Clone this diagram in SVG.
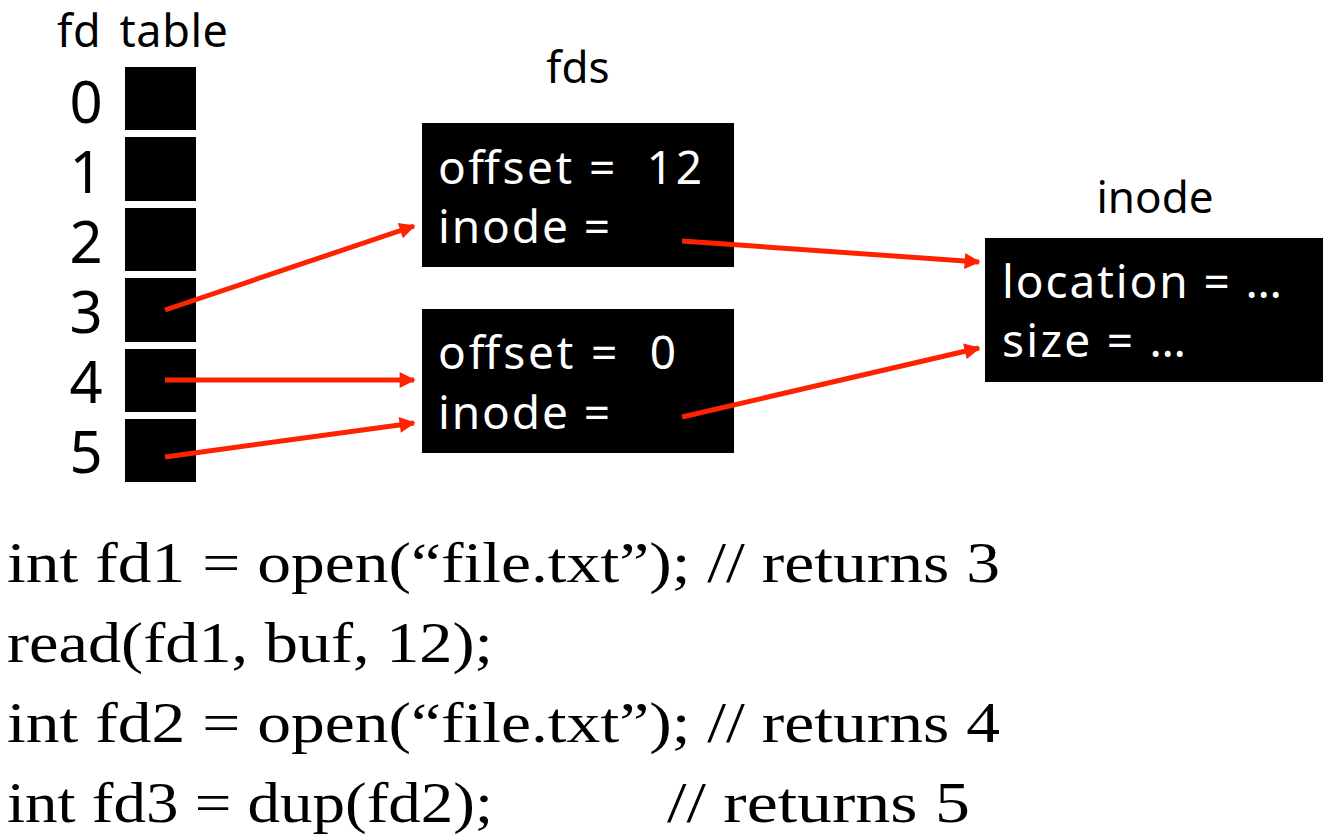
<svg xmlns="http://www.w3.org/2000/svg" width="1332" height="836" viewBox="0 0 1332 836">
<style>
.lbl{font-family:"Noto Sans","Open Sans",sans-serif;fill:#000;}
.big{font-size:45px;word-spacing:6px;}
.dig{font-size:58px;text-anchor:middle;}
.in{font-family:"Noto Sans","Open Sans",sans-serif;font-size:46px;fill:#fff;}
.cell{fill:#000;}
.box{fill:#000;}
.code{font-family:"Liberation Serif","Times New Roman",serif;font-size:56px;fill:#000;}
.arr{stroke:#ff2200;stroke-width:5;fill:none;marker-end:url(#ah);}
</style>
<defs>
<marker id="ah" viewBox="0 0 10 10" refX="9" refY="5" markerWidth="3.4" markerHeight="3.2" orient="auto" markerUnits="strokeWidth">
<path d="M0,0 L10,5 L0,10 z" fill="#ff2200"/>
</marker>
</defs>
<rect width="1332" height="836" fill="#fff"/>
<g id="fdtable">
<text class="lbl big" x="57" y="47" textLength="171" lengthAdjust="spacing">fd table</text>
<text class="lbl dig" x="86" y="123">0</text>
<rect class="cell" x="125" y="67" width="71" height="63"/>
<text class="lbl dig" x="86" y="193">1</text>
<rect class="cell" x="125" y="137" width="71" height="64"/>
<text class="lbl dig" x="86" y="263">2</text>
<rect class="cell" x="125" y="208" width="71" height="63"/>
<text class="lbl dig" x="86" y="333">3</text>
<rect class="cell" x="125" y="278" width="71" height="64"/>
<text class="lbl dig" x="86" y="403">4</text>
<rect class="cell" x="125" y="349" width="71" height="63"/>
<text class="lbl dig" x="86" y="473">5</text>
<rect class="cell" x="125" y="419" width="71" height="63"/>
</g>
<g id="fds">
<text class="lbl" font-size="44" x="578" y="83" text-anchor="middle">fds</text>
<g id="fds1">
<rect class="box" x="422" y="123" width="312" height="144"/>
<text class="in" x="438" y="184" xml:space="preserve" textLength="264" lengthAdjust="spacing">offset =  12</text>
<text class="in" x="438" y="243" textLength="172" lengthAdjust="spacing">inode =</text>
</g>
<g id="fds2">
<rect class="box" x="422" y="309" width="312" height="144"/>
<text class="in" x="438" y="369" xml:space="preserve" textLength="238" lengthAdjust="spacing">offset =  0</text>
<text class="in" x="438" y="429" textLength="172" lengthAdjust="spacing">inode =</text>
</g>
</g>
<g id="inode">
<text class="lbl" font-size="44" x="1155" y="213" text-anchor="middle">inode</text>
<rect class="box" x="985" y="238" width="338" height="144"/>
<text class="in" x="1002" y="298" textLength="280" lengthAdjust="spacing">location = …</text>
<text class="in" x="1002" y="357" textLength="184" lengthAdjust="spacing">size = …</text>
</g>
<g id="connectors">
<line class="arr" x1="165" y1="310" x2="414" y2="226"/>
<line class="arr" x1="165" y1="380" x2="414" y2="380"/>
<line class="arr" x1="165" y1="457" x2="414" y2="423"/>
<line class="arr" x1="682" y1="241" x2="979" y2="262"/>
<line class="arr" x1="682" y1="417" x2="979" y2="348"/>
</g>
<g id="code">
<text class="code" x="7" y="582" textLength="993" lengthAdjust="spacingAndGlyphs">int fd1 = open(“file.txt”); // returns 3</text>
<text class="code" x="7" y="662" textLength="486" lengthAdjust="spacingAndGlyphs">read(fd1, buf, 12);</text>
<text class="code" x="7" y="742" textLength="993" lengthAdjust="spacingAndGlyphs">int fd2 = open(“file.txt”); // returns 4</text>
<text class="code" x="7" y="822"><tspan textLength="486" lengthAdjust="spacingAndGlyphs">int fd3 = dup(fd2);</tspan><tspan x="667" textLength="303" lengthAdjust="spacingAndGlyphs">// returns 5</tspan></text>
</g>
</svg>
